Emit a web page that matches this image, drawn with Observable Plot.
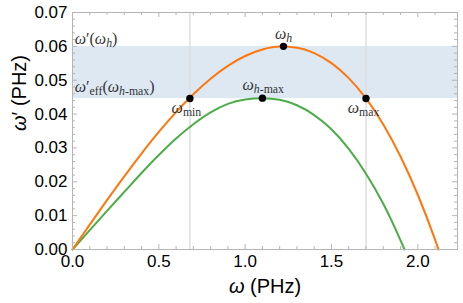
<!DOCTYPE html>
<html><head><meta charset="utf-8">
<script src="https://cdn.jsdelivr.net/npm/d3@7"></script>
<script src="https://cdn.jsdelivr.net/npm/@observablehq/plot@0.6"></script>
<style>body{margin:0;background:#fff}#chart{position:absolute;left:0;top:0}</style>
</head><body><div id="chart"></div>
<script>
// ---- data ----
const omegaOrange = [0,0.1,0.2,0.3,0.4,0.5,0.6,0.7,0.8,0.9,1.0,1.1,1.2,1.3,1.4,1.5,1.6,1.7,1.8,1.9,2.0,2.1,2.12];
const valueOrange = [0,0.00733,0.01457,0.02161,0.02835,0.03471,0.04057,0.04584,0.05043,0.05423,0.05715,0.05908,0.05994,0.05962,0.05802,0.05506,0.05062,0.04461,0.03693,0.02748,0.01617,0.00290,0];
const omegaGreen = [0,0.1,0.2,0.3,0.4,0.5,0.6,0.7,0.8,0.9,1.0,1.1,1.2,1.3,1.4,1.5,1.6,1.7,1.8,1.9,1.923];
const valueGreen = [0,0.0057,0.0114,0.0170,0.0226,0.0279,0.0328,0.0370,0.0405,0.0430,0.0443,0.0447,0.0442,0.0426,0.0397,0.0355,0.0297,0.0224,0.0135,0.0027,0];
const bandLow = 0.0446, bandHigh = 0.06;
const guideOmegas = [0.68, 1.70];
const markedOmega = [0.68, 1.70, 1.222, 1.10];
const markedValue = [0.0446, 0.0446, 0.06, 0.0447];
const pointLabelText = ["*ω*_{*h*}", "*ω*_{*h*-max}", "*ω*_{min}", "*ω*_{max}"];
const pointLabelOmega = [1.222, 1.105, 0.66, 1.686];
const pointLabelValue = [0.0638, 0.0487, 0.0419, 0.0419];
const sideLabelText = ["*ω*′(*ω*_{*h*})", "*ω*′_{eff}(*ω*_{*h*-max})"];
const sideLabelValue = [0.0623, 0.0481];
const xTickValues = [0, 0.5, 1.0, 1.5, 2.0];
const yTickValues = [0, 0.01, 0.02, 0.03, 0.04, 0.05, 0.06, 0.07];
const xLabel = "*ω* (PHz)";
const yLabel = "*ω*′ (PHz)";
const xDomain = [0, 2.23], yDomain = [0, 0.07];

// ---- layout ----
const W = 463, H = 303, mL = 72, mR = 6, mT = 12, mB = 54;
const pxX = (xDomain[1] - xDomain[0]) / (W - mL - mR);
const pxY = (yDomain[1] - yDomain[0]) / (H - mT - mB);
const frameGray = "#b5b5b5";

const orange = omegaOrange.map((w, i) => ({w, v: valueOrange[i]}));
const green = omegaGreen.map((w, i) => ({w, v: valueGreen[i]}));
const marked = markedOmega.map((w, i) => ({w, v: markedValue[i]}));
const pLabels = pointLabelText.map((t, i) => ({t, w: pointLabelOmega[i], v: pointLabelValue[i]}));
const sLabels = sideLabelText.map((t, i) => ({t, w: xDomain[0] + 0.013, v: sideLabelValue[i]}));

const xMinor = d3.range(0, 22).map(i => +(i * 0.1).toFixed(2)).filter(v => !xTickValues.some(t => Math.abs(t - v) < 1e-9));
const yMinor = d3.range(0, 36).map(i => +(i * 0.002).toFixed(3)).filter(v => !yTickValues.some(t => Math.abs(t - v) < 1e-9));
const majL = 5, minL = 3;

const tickMarks = (vals, len) => [
  Plot.ruleX(vals, {x: d => d, y1: yDomain[0], y2: yDomain[0] + len * pxY, stroke: frameGray}),
  Plot.ruleX(vals, {x: d => d, y1: yDomain[1] - len * pxY, y2: yDomain[1], stroke: frameGray})
];
const tickMarksY = (vals, len) => [
  Plot.ruleY(vals, {y: d => d, x1: xDomain[0], x2: xDomain[0] + len * pxX, stroke: frameGray}),
  Plot.ruleY(vals, {y: d => d, x1: xDomain[1] - len * pxX, x2: xDomain[1], stroke: frameGray})
];

const serif = "Liberation Serif";
const chart = Plot.plot({
  width: W, height: H,
  marginLeft: mL, marginRight: mR, marginTop: mT, marginBottom: mB,
  style: {background: "white", color: "black"},
  x: {domain: xDomain, axis: null},
  y: {domain: yDomain, axis: null},
  marks: [
    Plot.rect([0], {x1: xDomain[0], x2: xDomain[1], y1: bandLow, y2: bandHigh, fill: "#dde8f3"}),
    Plot.ruleX(guideOmegas, {x: d => d, stroke: "#dedede", strokeWidth: 1.5}),
    Plot.line(green, {x: "w", y: "v", stroke: "#4cad47", strokeWidth: 2, curve: "monotone-x"}),
    Plot.line(orange, {x: "w", y: "v", stroke: "#ff760d", strokeWidth: 2, curve: "monotone-x"}),
    Plot.dot(marked, {x: "w", y: "v", r: 3.7, fill: "black"}),
    Plot.text(pLabels, {x: "w", y: "v", text: "t", textAnchor: "middle", fontFamily: serif, fontSize: 16, fill: "#333"}),
    Plot.text(sLabels, {x: "w", y: "v", text: "t", textAnchor: "start", fontFamily: serif, fontSize: 16, fill: "#333"}),
    Plot.frame({stroke: frameGray}),
    ...tickMarks(xMinor, minL), ...tickMarks(xTickValues, majL),
    ...tickMarksY(yMinor, minL), ...tickMarksY(yTickValues, majL),
    Plot.axisX(xTickValues, {tickSize: 0, tickPadding: 5, tickFormat: d => d.toFixed(1), fontSize: 17, fontFamily: "Liberation Sans", label: null}),
    Plot.axisY(yTickValues, {tickSize: 0, tickPadding: 5, tickFormat: d => d.toFixed(2), fontSize: 17, fontFamily: "Liberation Sans", label: null}),
    Plot.text([xLabel], {frameAnchor: "bottom", dy: 37, text: d => d, fontSize: 20, fontFamily: "Liberation Sans", lineAnchor: "middle"}),
    Plot.text([yLabel], {frameAnchor: "left", dx: -53, text: d => d, fontSize: 20, fontFamily: "Liberation Sans", rotate: -90, lineAnchor: "middle"})
  ]
});

// rich text: *italic*, _{subscript}
function parseRich(s) {
  const segs = []; let it = false, sub = false, buf = "";
  const flush = () => { if (buf) segs.push({t: buf, it, sub}); buf = ""; };
  for (let i = 0; i < s.length; i++) {
    const c = s[i];
    if (c === "*") { flush(); it = !it; }
    else if (c === "_" && s[i + 1] === "{") { flush(); sub = true; i++; }
    else if (c === "}" && sub) { flush(); sub = false; }
    else buf += c;
  }
  flush();
  return segs;
}
document.getElementById("chart").appendChild(chart);
d3.select(chart).selectAll("text").each(function () {
  const s = this.textContent;
  if (!/[*]|_\{/.test(s)) return;
  const fs = parseFloat(getComputedStyle(this).fontSize) || 16;
  const segs = parseRich(s);
  this.textContent = "";
  let inSub = false;
  for (const g of segs) {
    const ts = d3.select(this).append("tspan").text(g.t)
      .attr("font-style", g.it ? "italic" : "normal");
    if (g.sub) ts.attr("font-size", (fs * 0.74).toFixed(1));
    if (g.sub && !inSub) ts.attr("dy", (fs * 0.2).toFixed(1));
    if (!g.sub && inSub) ts.attr("dy", (-fs * 0.2).toFixed(1));
    inSub = g.sub;
  }
});
</script></body></html>
